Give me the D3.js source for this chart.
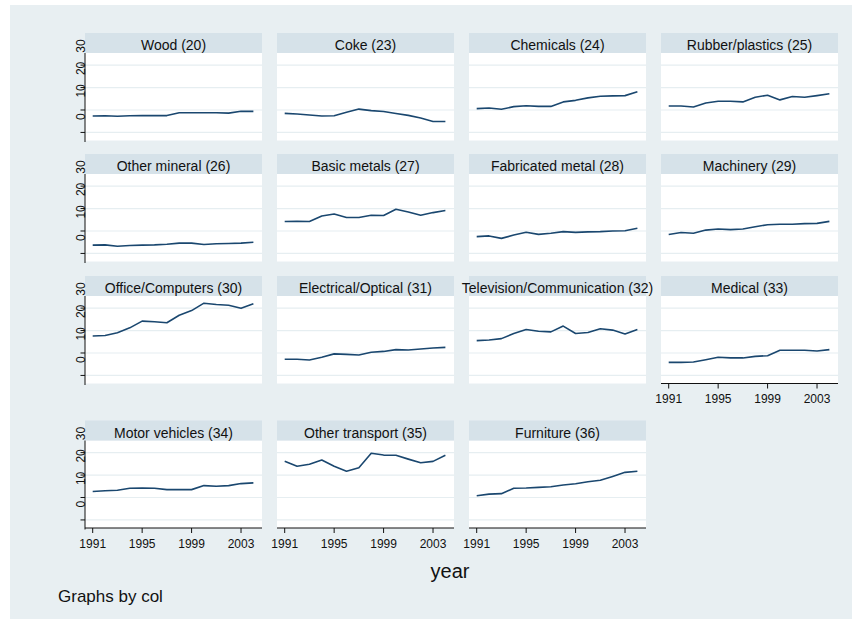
<!DOCTYPE html>
<html>
<head>
<meta charset="utf-8">
<script src="https://cdn.jsdelivr.net/npm/d3@7"></script>
<style>
  html, body { margin: 0; padding: 0; background: #ffffff; }
  svg { display: block; font-family: "Liberation Sans", Arial, Helvetica, sans-serif; }
</style>
</head>
<body>
<svg id="chart" width="854" height="625"></svg>
<script>
// Years on the x axis
const years = [1991, 1992, 1993, 1994, 1995, 1996, 1997, 1998, 1999, 2000, 2001, 2002, 2003, 2004];
const xTicks = [1991, 1995, 1999, 2003];
const yTicks = [-10, 0, 10, 20, 30];
const yLabels = [0, 10, 20, 30];

// One series per industry (col)
const wood          = [-2.7, -2.6, -2.8, -2.6, -2.5, -2.5, -2.5, -1.2, -1.2, -1.2, -1.2, -1.4, -0.6, -0.6];
const coke          = [-1.5, -1.8, -2.2, -2.7, -2.6, -1.0, 0.4, -0.3, -0.7, -1.6, -2.4, -3.6, -5.1, -5.1];
const chemicals     = [0.6, 0.9, 0.3, 1.5, 1.9, 1.6, 1.6, 3.6, 4.3, 5.4, 6.1, 6.3, 6.4, 8.1];
const rubber        = [1.8, 1.8, 1.3, 3.1, 3.9, 3.9, 3.6, 5.7, 6.6, 4.5, 6.0, 5.7, 6.4, 7.2];
const otherMineral  = [-6.3, -6.2, -6.8, -6.5, -6.3, -6.2, -5.9, -5.4, -5.4, -6.0, -5.7, -5.6, -5.4, -5.0];
const basicMetals   = [4.2, 4.3, 4.2, 6.7, 7.6, 6.0, 6.0, 7.0, 6.9, 9.7, 8.5, 7.0, 8.2, 9.1];
const fabricated    = [-2.5, -2.2, -3.3, -1.8, -0.6, -1.5, -1.0, -0.3, -0.6, -0.4, -0.3, 0.0, 0.1, 1.2];
const machinery     = [-1.6, -0.7, -1.0, 0.4, 0.9, 0.6, 0.9, 1.9, 2.8, 3.0, 3.0, 3.3, 3.4, 4.3];
const office        = [7.6, 7.8, 9.0, 11.2, 14.2, 13.9, 13.5, 16.8, 18.9, 22.2, 21.6, 21.3, 19.9, 21.9];
const electrical    = [-2.8, -2.8, -3.1, -1.9, -0.4, -0.6, -0.9, 0.3, 0.7, 1.5, 1.3, 1.8, 2.2, 2.5];
const television    = [5.5, 5.8, 6.4, 8.7, 10.5, 9.7, 9.4, 12.0, 8.7, 9.1, 10.8, 10.2, 8.5, 10.5];
const medical       = [-4.2, -4.2, -4.0, -3.0, -1.9, -2.2, -2.2, -1.5, -1.2, 1.2, 1.2, 1.2, 0.9, 1.5];
const motorVehicles = [2.7, 3.0, 3.2, 4.1, 4.2, 4.1, 3.5, 3.5, 3.5, 5.3, 5.0, 5.3, 6.2, 6.5];
const otherTransport= [16.1, 13.9, 14.8, 16.7, 13.9, 11.7, 13.3, 19.7, 18.9, 18.8, 17.1, 15.5, 16.1, 18.8];
const furniture     = [0.8, 1.5, 1.7, 4.1, 4.2, 4.5, 4.8, 5.6, 6.1, 7.0, 7.7, 9.4, 11.2, 11.7];

const titles = ["Wood (20)", "Coke (23)", "Chemicals (24)", "Rubber/plastics (25)",
  "Other mineral (26)", "Basic metals (27)", "Fabricated metal (28)", "Machinery (29)",
  "Office/Computers (30)", "Electrical/Optical (31)", "Television/Communication (32)", "Medical (33)",
  "Motor vehicles (34)", "Other transport (35)", "Furniture (36)"];
const seriesList = [wood, coke, chemicals, rubber, otherMineral, basicMetals, fabricated, machinery,
  office, electrical, television, medical, motorVehicles, otherTransport, furniture];

// Layout of the 4-column grid
const colLeft = [85, 277, 469, 661];
const panelW = 177;
const plotTop = [53, 174, 296, 440.5];
const plotH = 87.5;
const stripH = 20;

const lineColor = "#1a476f";
const svg = d3.select("#chart");

svg.append("rect").attr("x", 10).attr("y", 5).attr("width", 842).attr("height", 614)
  .attr("fill", "#e8eff2");

const x = d3.scaleLinear().domain([1990.377, 2004.697]).range([0, panelW]);
const y = d3.scaleLinear().domain([-13.6, 25.4]).range([plotH, 0]);

const line = d3.line().x((d, i) => x(years[i])).y(d => y(d));

seriesList.forEach((vals, k) => {
  const row = Math.floor(k / 4), col = k % 4;
  const g = svg.append("g").attr("transform", `translate(${colLeft[col]},${plotTop[row]})`);

  // plot area
  g.append("rect").attr("width", panelW).attr("height", plotH).attr("fill", "#ffffff");

  // gridlines
  g.selectAll("line.grid").data(yTicks.filter(t => t <= 25.4)).join("line")
    .attr("class", "grid")
    .attr("x1", 0).attr("x2", panelW)
    .attr("y1", d => y(d)).attr("y2", d => y(d))
    .attr("stroke", "#e6eef1").attr("stroke-width", 1.2);

  // strip title
  g.append("rect").attr("y", -stripH).attr("width", panelW).attr("height", stripH)
    .attr("fill", "#d6e2e9");
  g.append("text").attr("x", panelW / 2).attr("y", -3)
    .attr("text-anchor", "middle").attr("font-size", 14).attr("fill", "#111")
    .text(titles[k]);

  // series line
  g.append("path").datum(vals).attr("d", line)
    .attr("fill", "none").attr("stroke", lineColor).attr("stroke-width", 1.6)
    .attr("stroke-linejoin", "round");

  // y axis on the first column
  if (col === 0) {
    g.append("line").attr("x1", 0).attr("x2", 0).attr("y1", 0).attr("y2", plotH + 1.5)
      .attr("stroke", "#111").attr("stroke-width", 1);
    g.selectAll("line.ytick").data(yTicks.filter(t => t <= 25.4)).join("line")
      .attr("class", "ytick")
      .attr("x1", -4.5).attr("x2", 0)
      .attr("y1", d => y(d)).attr("y2", d => y(d))
      .attr("stroke", "#111").attr("stroke-width", 1);
    g.selectAll("text.ylab").data(yLabels).join("text")
      .attr("class", "ylab")
      .attr("transform", d => `translate(0,${y(d) + 10}) rotate(-90)`)
      .attr("text-anchor", "start").attr("font-size", 12).attr("fill", "#111")
      .text(d => d);
  }

  // x axis on the bottom panel of each column
  if (k >= 11) {
    const xa = g.append("g").attr("transform", `translate(0,${plotH})`);
    xa.append("line").attr("x1", 0).attr("x2", panelW).attr("y1", 0).attr("y2", 0)
      .attr("stroke", "#111").attr("stroke-width", 1);
    xa.selectAll("line.xtick").data(xTicks).join("line")
      .attr("class", "xtick")
      .attr("x1", d => x(d)).attr("x2", d => x(d)).attr("y1", 0).attr("y2", 5)
      .attr("stroke", "#111").attr("stroke-width", 1);
    xa.selectAll("text.xlab").data(xTicks).join("text")
      .attr("class", "xlab")
      .attr("x", d => x(d)).attr("y", 19.5)
      .attr("text-anchor", "middle").attr("font-size", 12).attr("fill", "#111")
      .text(d => d);
  }
});

svg.append("text").attr("x", 450).attr("y", 578).attr("text-anchor", "middle")
  .attr("font-size", 20).attr("fill", "#111").text("year");
svg.append("text").attr("x", 58).attr("y", 602)
  .attr("font-size", 17).attr("fill", "#111").text("Graphs by col");
</script>
</body>
</html>
